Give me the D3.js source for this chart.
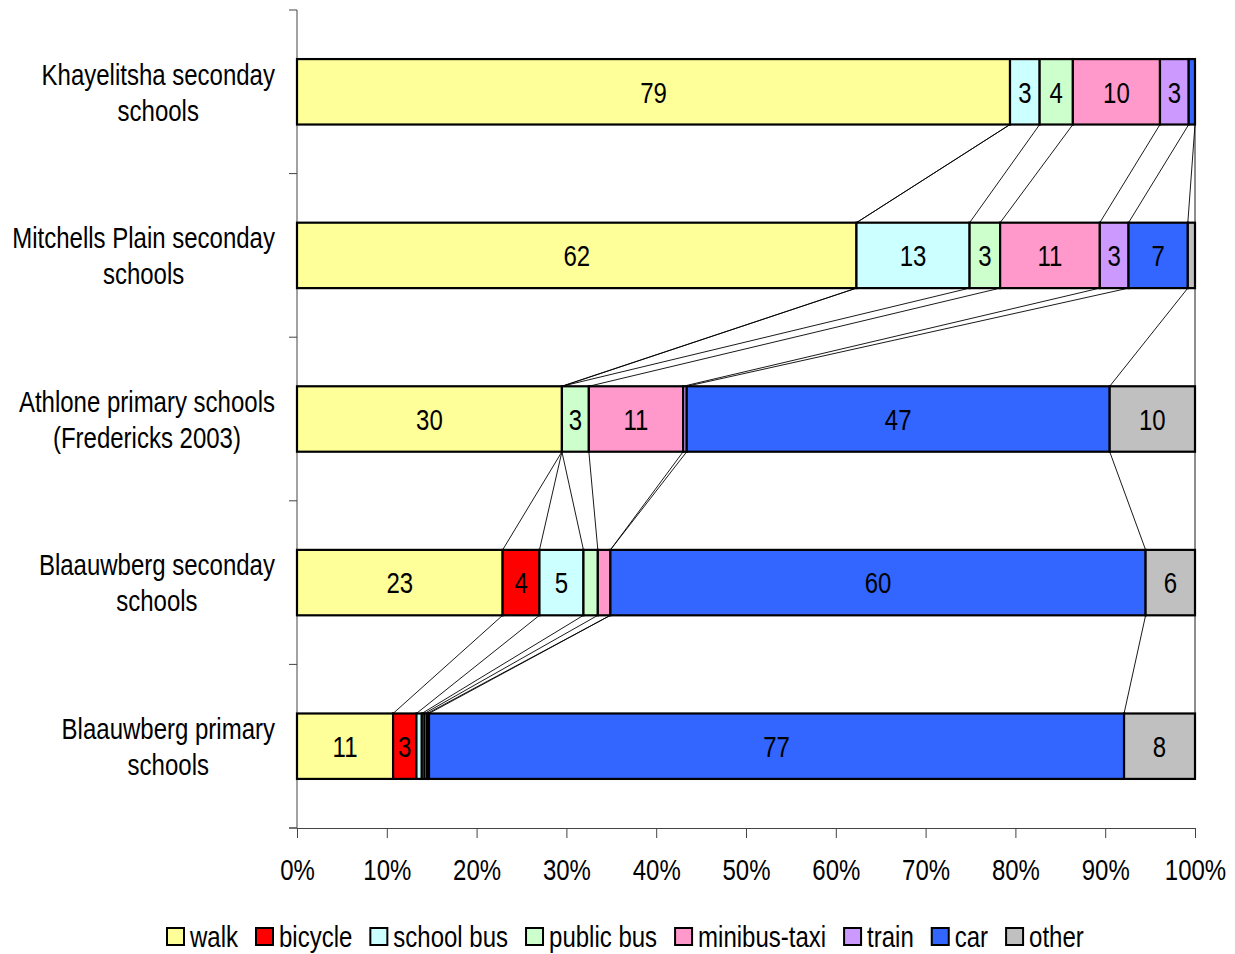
<!DOCTYPE html>
<html>
<head>
<meta charset="utf-8">
<script src="https://cdn.jsdelivr.net/npm/d3@7"></script>
<style>
  html, body { margin: 0; padding: 0; background: #fff; }
  svg { display: block; }
  text { font-family: "Liberation Sans", Arial, sans-serif; fill: #000; }
</style>
</head>
<body>
<svg id="chart" width="1235" height="954"></svg>
<script>
// Share of learners by mode of travel to school (%)
const categories = [
  ["Khayelitsha seconday", "schools"],
  ["Mitchells Plain seconday", "schools"],
  ["Athlone primary schools", "(Fredericks 2003)"],
  ["Blaauwberg seconday", "schools"],
  ["Blaauwberg primary", "schools"]
];
const modes = ["walk", "bicycle", "school bus", "public bus", "minibus-taxi", "train", "car", "other"];
const modeColors = ["#FFFF99", "#FF0000", "#CCFFFF", "#CCFFCC", "#FF99CC", "#CC99FF", "#3366FF", "#C0C0C0"];

const walk       = [79.4, 62.3, 29.5, 22.9, 10.7];
const bicycle    = [0,    0,    0,    4.1,  2.6];
const schoolBus  = [3.3,  12.6, 0,    4.9,  0.6];
const publicBus  = [3.7,  3.4,  3.0,  1.6,  0.3];
const minibus    = [9.7,  11.1, 10.5, 1.4,  0.3];
const train      = [3.2,  3.2,  0.4,  0,    0.2];
const car        = [0.7,  6.6,  47.1, 59.6, 77.4];
const other      = [0,    0.8,  9.5,  5.5,  7.9];

const xTicks = [0, 0.1, 0.2, 0.3, 0.4, 0.5, 0.6, 0.7, 0.8, 0.9, 1.0];

const seriesValues = [walk, bicycle, schoolBus, publicBus, minibus, train, car, other];
const catKeys = categories.map(c => c.join(" "));
const rows = catKeys.map((k, i) => {
  const r = { key: k };
  modes.forEach((m, j) => { r[m] = seriesValues[j][i]; });
  return r;
});

// condensed type: regular face squeezed horizontally
const FS = 30, SX = 0.8;
function narrowText(parent, tx, ty, str, anchor) {
  const t = parent.append("text")
    .attr("transform", `translate(${tx},${ty}) scale(${SX},1)`)
    .attr("dy", "0.36em")
    .attr("text-anchor", anchor || "middle")
    .attr("font-size", FS)
    .text(str);
  return t;
}

const svg = d3.select("#chart");
const plotLeft = 297, plotRight = 1195, plotTop = 10, plotBottom = 828;

const x = d3.scaleLinear().domain([0, 1]).range([plotLeft, plotRight]);
const y = d3.scaleBand().domain(catKeys).range([plotTop, plotBottom]).paddingInner(0.6).paddingOuter(0.3);
const color = d3.scaleOrdinal().domain(modes).range(modeColors);

const stack = d3.stack().keys(modes).offset(d3.stackOffsetExpand);
const layers = stack(rows);

// Series lines between consecutive bars at each cumulative boundary
const linesG = svg.append("g");
layers.forEach(layer => {
  for (let i = 0; i < catKeys.length - 1; i++) {
    const a = layer[i], b = layer[i + 1];
    linesG.append("line")
      .attr("x1", x(a[1])).attr("y1", y(catKeys[i]) + y.bandwidth())
      .attr("x2", x(b[1])).attr("y2", y(catKeys[i + 1]))
      .attr("stroke", "#000").attr("stroke-width", 0.9);
  }
});

// Y axis line with category separators
const axG = svg.append("g");
axG.append("line").attr("x1", plotLeft).attr("x2", plotLeft).attr("y1", plotTop).attr("y2", plotBottom)
  .attr("stroke", "#444").attr("stroke-width", 1);
const step = y.step();
const firstEdge = y(catKeys[0]) - y.paddingOuter() * step;
for (let k = 0; k <= catKeys.length; k++) {
  const yy = firstEdge + k * step;
  axG.append("line").attr("x1", plotLeft - 8).attr("x2", plotLeft).attr("y1", yy).attr("y2", yy)
    .attr("stroke", "#444").attr("stroke-width", 1);
}

// Bars
const barsG = svg.append("g");
layers.forEach((layer, j) => {
  barsG.selectAll(null).data(layer).enter().append("rect")
    .attr("x", d => x(d[0]))
    .attr("y", (d, i) => y(catKeys[i]))
    .attr("width", d => Math.max(0, x(d[1]) - x(d[0])))
    .attr("height", y.bandwidth())
    .attr("fill", color(modes[j]))
    .attr("stroke", "#000").attr("stroke-width", 2.2);
});

// Value labels
const labelsG = svg.append("g");
layers.forEach((layer, j) => {
  layer.forEach((d, i) => {
    const v = seriesValues[j][i];
    if (v < 2) return;
    narrowText(labelsG, (x(d[0]) + x(d[1])) / 2, y(catKeys[i]) + y.bandwidth() / 2, Math.round(v));
  });
});

// Category labels: lines centred on each other, block right-aligned
const catG = svg.append("g");
categories.forEach((lines, i) => {
  const cy = y(catKeys[i]) + y.bandwidth() / 2;
  const g = catG.append("g");
  const widths = lines.map(ln => {
    const probe = g.append("text").attr("font-size", FS).text(ln);
    const w = probe.node().getComputedTextLength() * SX;
    probe.remove();
    return w;
  });
  const w = d3.max(widths);
  lines.forEach((ln, li) => narrowText(g, 275 - w / 2, cy + (li - (lines.length - 1) / 2) * 36, ln));
});

// X axis
const xAxis = d3.axisBottom(x).tickValues(xTicks).tickFormat(d3.format(".0%")).tickSize(10).tickPadding(21).tickSizeOuter(0);
const xg = svg.append("g").attr("transform", `translate(0,${plotBottom})`).call(xAxis);
xg.select(".domain").attr("stroke", "#444");
xg.selectAll(".tick line").attr("stroke", "#444");
xg.selectAll(".tick text").attr("font-size", FS).attr("font-family", null).attr("fill", "#000")
  .attr("transform", `scale(${SX},1)`);
xg.append("line").attr("x1", plotLeft - 8).attr("x2", plotLeft).attr("y1", 0).attr("y2", 0).attr("stroke", "#444");

// Legend
const legend = svg.append("g").attr("transform", "translate(166,936)");
let lx = 0;
modes.forEach((m, j) => {
  const item = legend.append("g").attr("transform", `translate(${lx},0)`);
  item.append("rect").attr("x", 1).attr("y", -8).attr("width", 17).attr("height", 17)
    .attr("fill", modeColors[j]).attr("stroke", "#000").attr("stroke-width", 2);
  const t = narrowText(item, 24, 0, m, "start");
  lx += 24 + t.node().getComputedTextLength() * SX + 17;
});
</script>
</body>
</html>
